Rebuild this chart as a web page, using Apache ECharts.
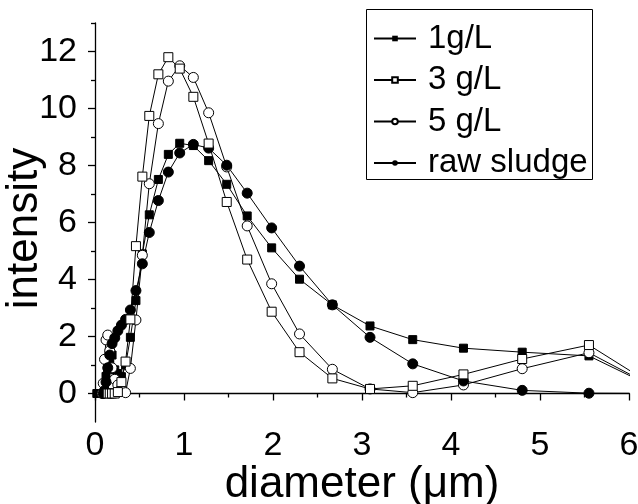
<!DOCTYPE html>
<html>
<head>
<meta charset="utf-8">
<script src="https://cdn.jsdelivr.net/npm/echarts@6/dist/echarts.min.js"></script>
<style>html,body{margin:0;padding:0;background:#fff}#c{width:638px;height:504px}</style>
</head>
<body>
<div id="c"></div>
<script>
const xBins = [0.0215,0.0249,0.0288,0.0333,0.0385,0.0446,0.0516,0.0597,0.069,0.08,
  0.0925,0.107,0.1238,0.1432,0.1657,0.1917,0.2218,0.2567,0.297,0.3435,
  0.3975,0.46,0.532,0.61,0.712,0.824,0.952,1.105,1.277,1.48,
  1.71,1.985,2.298,2.667,3.09,3.57,4.14,4.80,5.55,6.42];
const s1gL = [0,0,0,0,0,0,0,0,0,0,
  0,0.3,0.6,0.88,1.1,1.35,0.83,0.7,0.59,1.0,
  1.97,3.26,4.9,6.27,7.51,8.39,8.78,8.7,8.17,7.34,
  6.23,5.11,4.01,3.11,2.37,1.89,1.59,1.45,1.32,0];
const s3gL = [null,null,null,null,null,null,null,null,null,null,
  null,null,null,0,0,0,0,0.05,0.4,1.12,
  2.6,5.17,7.61,9.74,11.2,11.8,11.4,10.41,8.77,6.72,
  4.70,2.87,1.45,0.53,0.16,0.27,0.67,1.21,1.70,0];
const s5gL = [null,null,null,null,null,null,null,null,null,0,
  0.36,1.2,1.88,2.05,1.5,0.9,0.5,0.3,0.18,0.03,
  0.88,2.58,4.85,7.36,9.47,10.96,11.5,11.09,9.85,7.95,
  5.88,3.85,2.09,0.85,0.16,0.03,0.30,0.87,1.43,0];
const sRaw = [null,null,null,null,null,null,null,null,null,null,
  0,0.1,0.4,0.9,1.35,1.75,1.95,2.2,2.4,2.6,
  2.93,3.61,4.55,5.65,6.77,7.77,8.44,8.74,8.61,8.01,
  7.03,5.81,4.47,3.11,1.97,1.04,0.44,0.11,0.01,0];
const seriesNames = ['1g/L','3 g/L','5 g/L','raw sludge'];
const yMajor = [0,2,4,6,8,10,12];
const yMinor = [1,3,5,7,9,11,13];

function pairs(vals){ const out=[]; vals.forEach((v,i)=>{ if(v!==null) out.push([xBins[i],v]); }); return out; }

const FONT = "'Liberation Sans', Arial, sans-serif";
const chart = echarts.init(document.getElementById('c'), null, {renderer:'canvas'});
const lineStyle = {color:'#000', width:1};
chart.setOption({
  animation:false,
  backgroundColor:'#fff',
  grid:{left:95,right:9,top:23,bottom:82,containLabel:false,outerBoundsMode:'none'},
  xAxis:{type:'value',min:0,max:6,interval:1,
    name:'diameter (μm)',nameLocation:'middle',nameGap:41,nameMoveOverlap:false,
    nameTextStyle:{fontFamily:FONT,fontSize:44,color:'#000'},
    axisLine:{lineStyle:{color:'#000',width:1.3}},
    axisTick:{show:true,inside:false,length:7,lineStyle:{color:'#000',width:1.3}},
    minorTick:{show:true,splitNumber:2,length:4,lineStyle:{color:'#000',width:1.3}},
    axisLabel:{fontFamily:FONT,fontSize:34,color:'#000',margin:7},
    splitLine:{show:false}},
  yAxis:[{type:'value',min:-1,max:13,
    name:'intensity',nameLocation:'middle',nameGap:48,nameRotate:90,nameMoveOverlap:false,
    nameTextStyle:{fontFamily:FONT,fontSize:44,color:'#000',padding:[0,12,0,0]},
    axisLine:{show:true,lineStyle:{color:'#000',width:1.3}},
    axisTick:{show:true,length:7,customValues:yMajor,lineStyle:{color:'#000',width:1.3}},
    axisLabel:{fontFamily:FONT,fontSize:34,color:'#000',margin:18,customValues:yMajor},
    splitLine:{show:false}},
   {type:'value',min:-1,max:13,position:'left',
    axisLine:{show:false},
    axisTick:{show:true,length:4,customValues:yMinor,lineStyle:{color:'#000',width:1.3}},
    axisLabel:{show:false},splitLine:{show:false}}],
  legend:{orient:'vertical',left:373,top:22,padding:0,itemWidth:42,itemHeight:7,itemGap:8.5,
    data:seriesNames,
    textStyle:{fontFamily:FONT,fontSize:33,color:'#000',padding:[0,0,0,7]}},
  graphic:[{type:'rect',shape:{x:366.5,y:9.5,width:226,height:170},
    style:{fill:null,stroke:'#000',lineWidth:1},z:100}],
  series:[
    {name:'1g/L',type:'line',data:pairs(s1gL),symbol:'rect',symbolSize:8,
     itemStyle:{color:'#000',borderColor:'#000'},lineStyle:lineStyle},
    {name:'5 g/L',type:'line',data:pairs(s5gL),symbol:'circle',symbolSize:10,
     itemStyle:{color:'#fff',borderColor:'#000',borderWidth:1},lineStyle:lineStyle},
    {name:'raw sludge',type:'line',data:pairs(sRaw),symbol:'circle',symbolSize:10,
     itemStyle:{color:'#000',borderColor:'#000'},lineStyle:lineStyle},
    {name:'3 g/L',type:'line',data:pairs(s3gL),symbol:'rect',symbolSize:9,
     itemStyle:{color:'#fff',borderColor:'#000',borderWidth:1},lineStyle:lineStyle}
  ]
});
</script>
</body>
</html>
